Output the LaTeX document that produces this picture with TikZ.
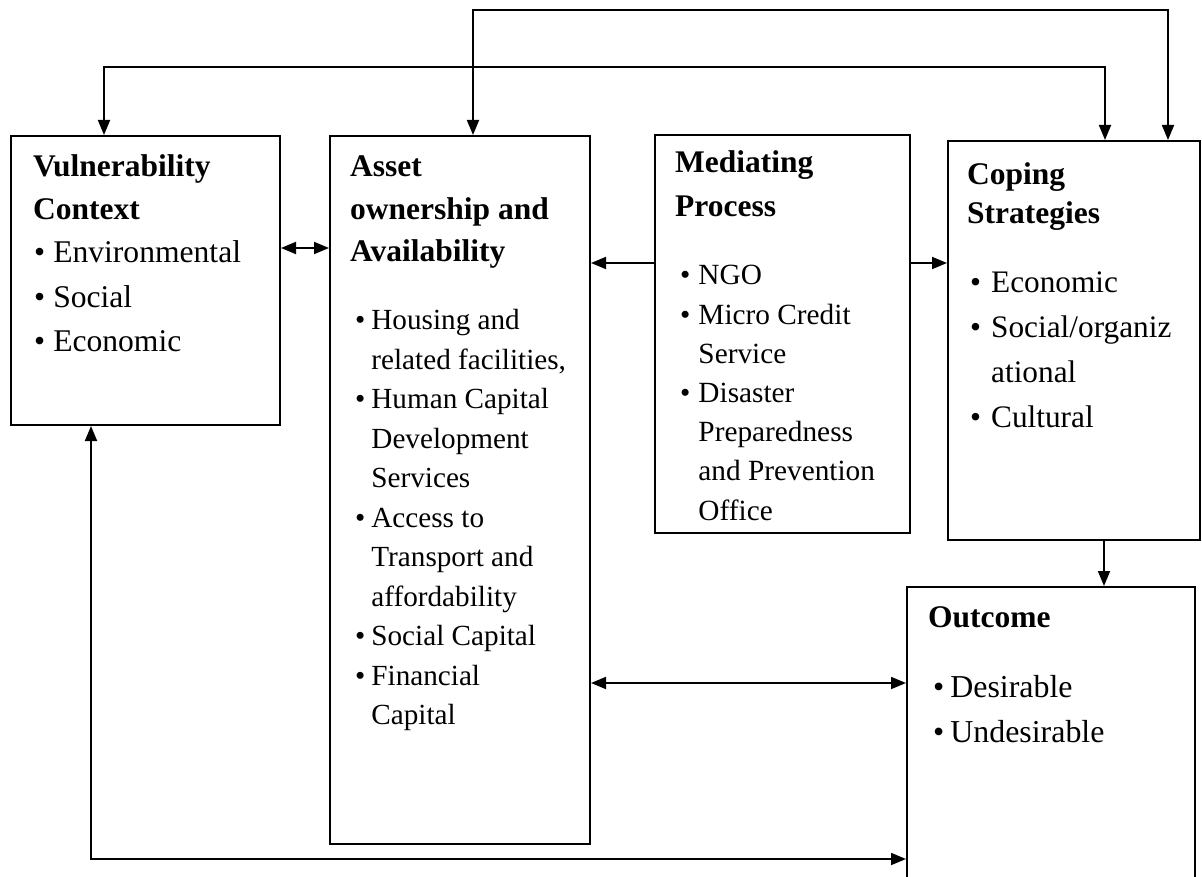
\documentclass[tikz,border=0pt]{standalone}
\usepackage{fontspec}
\setmainfont{Liberation Serif}
\usetikzlibrary{arrows.meta, calc, positioning}
\tikzset{
    >={Triangle[length=15pt,width=12pt]},
    box/.style={draw, line width=2pt, rectangle, inner sep=0pt, anchor=north west},
    title/.style={inner sep=0pt, anchor=base west, font=\fontsize{31.5}{42.5}\selectfont\bfseries},
    list/.style={inner sep=0pt, anchor=base west},
    link/.style={line width=1.8pt},
}

\begin{document}
\begin{tikzpicture}[x=1pt, y=-1pt]
        \useasboundingbox (0,0) rectangle (1202,877);
        \node[box, minimum width=269, minimum height=289] (vuln) at (10,135) {};
        \node[box, minimum width=260, minimum height=708] (asset) at (329,135) {};
        \node[box, minimum width=255, minimum height=398] (med) at (654,134) {};
        \node[box, minimum width=252, minimum height=399] (coping) at (947,140) {};
        \node[box, minimum width=288, minimum height=293] (outcome) at (906,586) {};

        \node[title] (vulnT) at ($(vuln.north west)+(23,42)$) {\begin{tabular}[t]{@{}l@{}}Vulnerability\\Context\end{tabular}};
        \node[list, font=\fontsize{31.6}{44.5}\selectfont] (vulnL) at ($(vuln.north west)+(24,128)$) {\begin{tabular}[t]{@{}l@{\hspace{8pt}}l@{}}
            \textbullet & Environmental\\
            \textbullet & Social\\
            \textbullet & Economic
        \end{tabular}};

        \node[title] (assetT) at ($(asset.north west)+(21,42)$) {\begin{tabular}[t]{@{}l@{}}Asset\\ownership and\\Availability\end{tabular}};
        \node[list, font=\fontsize{29.2}{39.5}\selectfont] (assetL) at ($(asset.north west)+(26,195)$) {\begin{tabular}[t]{@{}l@{\hspace{6pt}}l@{}}
            \textbullet & Housing and\\
                        & related facilities,\\
            \textbullet & Human Capital\\
                        & Development\\
                        & Services\\
            \textbullet & Access to\\
                        & Transport and\\
                        & affordability\\
            \textbullet & Social Capital\\
            \textbullet & Financial\\
                        & Capital
        \end{tabular}};

        \node[title, font=\fontsize{31.5}{44}\selectfont\bfseries] (medT) at ($(med.north west)+(21,39)$) {\begin{tabular}[t]{@{}l@{}}Mediating\\Process\end{tabular}};
        \node[list, font=\fontsize{29.3}{39.2}\selectfont] (medL) at ($(med.north west)+(26,151)$) {\begin{tabular}[t]{@{}l@{\hspace{8pt}}l@{}}
            \textbullet & NGO\\
            \textbullet & Micro Credit\\
                        & Service\\
            \textbullet & Disaster\\
                        & Preparedness\\
                        & and Prevention\\
                        & Office
        \end{tabular}};

        \node[title, font=\fontsize{31.5}{39}\selectfont\bfseries] (copingT) at ($(coping.north west)+(20,45)$) {\begin{tabular}[t]{@{}l@{}}Coping\\Strategies\end{tabular}};
        \node[list, font=\fontsize{31.3}{45}\selectfont] (copingL) at ($(coping.north west)+(23,153)$) {\begin{tabular}[t]{@{}l@{\hspace{10pt}}l@{}}
            \textbullet & Economic\\
            \textbullet & Social/organiz\\
                        & ational\\
            \textbullet & Cultural
        \end{tabular}};

        \node[title] (outcomeT) at ($(outcome.north west)+(22,41)$) {Outcome};
        \node[list, font=\fontsize{31.9}{45}\selectfont] (outcomeL) at ($(outcome.north west)+(27,111)$) {\begin{tabular}[t]{@{}l@{\hspace{6pt}}l@{}}
            \textbullet & Desirable\\
            \textbullet & Undesirable
        \end{tabular}};

        \coordinate (topA) at (473,10);
        \coordinate (topC) at (1168,10);
        \coordinate (midV) at (104,67);
        \coordinate (midC) at (1105,67);
        \coordinate (vaY) at (0,248);
        \coordinate (maY) at (0,263);
        \coordinate (aoY) at (0,683);
        \coordinate (coX) at (1104,0);
        \coordinate (botV) at (91,859);

        \draw[link, <->] (asset.north -| topA) -- (topA) -- (topC) -- (coping.north -| topC);
        \draw[link, <->] (vuln.north -| midV) -- (midV) -- (midC) -- (coping.north -| midC);
        \draw[link, <->] (vuln.east |- vaY) -- (asset.west |- vaY);
        \draw[link, ->] (med.west |- maY) -- (asset.east |- maY);
        \draw[link, ->] (med.east |- maY) -- (coping.west |- maY);
        \draw[link, ->] (coping.south -| coX) -- (outcome.north -| coX);
        \draw[link, <->] (asset.east |- aoY) -- (outcome.west |- aoY);
        \draw[link, <->] (vuln.south -| botV) -- (botV) -- (outcome.west |- botV);
    \end{tikzpicture}
\end{document}
